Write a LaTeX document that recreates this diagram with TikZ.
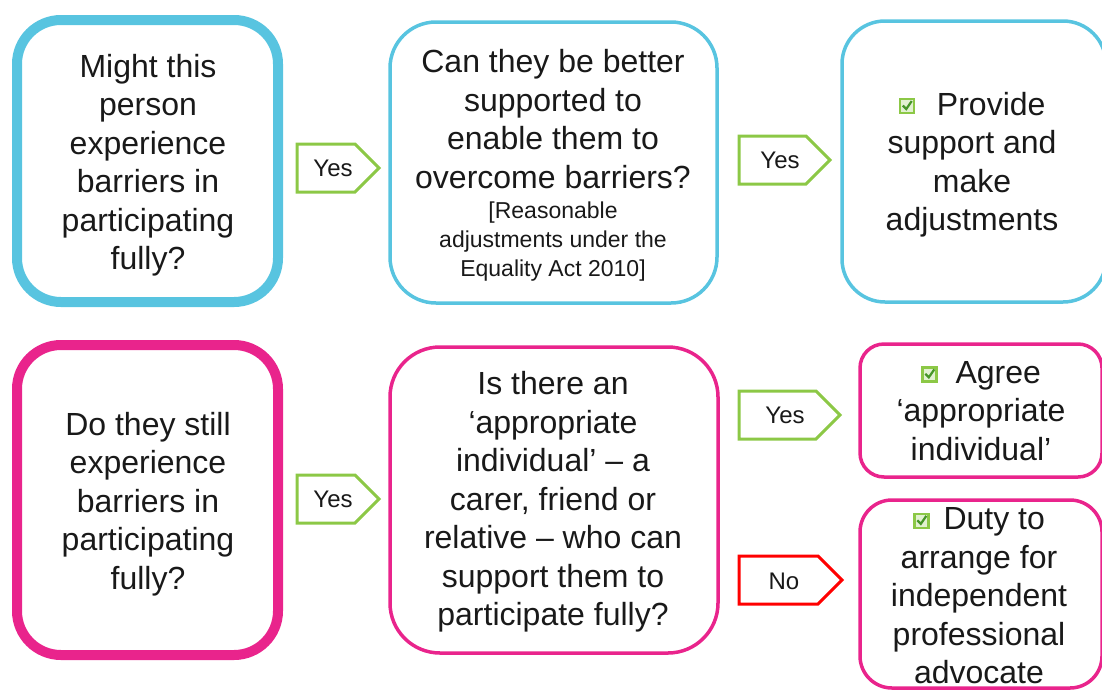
\documentclass[tikz,border=0pt]{standalone}
\usepackage{fontspec}
\setmainfont{Liberation Sans}
\definecolor{cyanline}{RGB}{88,196,224}
\definecolor{pinkline}{RGB}{233,36,140}
\definecolor{limeline}{RGB}{140,200,70}
\definecolor{redline}{RGB}{255,0,0}
\definecolor{checkdark}{RGB}{70,150,40}
\newcommand\chkicon{\tikz[x=1pt,y=1pt,baseline=-2pt]{\draw[limeline,line width=2.4pt,fill=limeline!25] (0,0) rectangle (14,14);\draw[checkdark,line width=2.2pt] (3,7.5) -- (6.5,4) -- (12,12);}}
\begin{document}
\begin{tikzpicture}[x=1pt,y=-1pt,
  big/.style={font=\fontsize{32}{38.5}\selectfont, align=center, inner sep=0pt, text=black!90},
  small/.style={font=\fontsize{23}{29}\selectfont, align=center, inner sep=0pt, text=black!90},
  lbl/.style={font=\fontsize{24}{28}\selectfont, inner sep=0pt, text=black!90},
  thickbox/.style={draw=#1, line width=10pt, rounded corners=44pt, rectangle, inner sep=0pt},
  thinbox/.style={draw=#1, line width=3.5pt, rectangle, inner sep=0pt},
  tag/.style={draw=#1, line width=3pt, fill=white, line join=miter}
]
\useasboundingbox (0,0) rectangle (1102,691);
\clip (0,0) rectangle (1102,691);
% top row
\node[thickbox=cyanline, minimum width=261pt, minimum height=282pt] (a) at (147.5,161) {};
\node[big] (at) at (148,165) {Might this\\person\\experience\\barriers in\\participating\\fully?};
\node[thinbox=cyanline, rounded corners=46pt, minimum width=327pt, minimum height=281pt] (b) at (553.5,162.5) {};
\node[big] (bt) at (553,119) {Can they be better\\supported to\\enable them to\\overcome barriers?};
\node[small] (bs) at (553,242) {[Reasonable\\adjustments under the\\Equality Act 2010]};
\node[thinbox=cyanline, rounded corners=43pt, minimum width=264pt, minimum height=281pt] (c) at (974,161.5) {};
\node[big] (ct) at (972,164.5) {\chkicon\hspace{22pt}Provide\\support and\\make\\adjustments};
% bottom row
\node[thickbox=pinkline, minimum width=261pt, minimum height=310pt] (d) at (147.5,500) {};
\node[big] (dt) at (148,504) {Do they still\\experience\\barriers in\\participating\\fully?};
\node[thinbox=pinkline, rounded corners=50pt, minimum width=328pt, minimum height=306pt] (e) at (554,500) {};
\node[big] (et) at (553,502) {Is there an\\‘appropriate\\individual’ – a\\carer, friend or\\relative – who can\\support them to\\participate fully?};
\node[thinbox=pinkline, rounded corners=24pt, minimum width=242pt, minimum height=133pt] (f) at (981,410.5) {};
\node[big] (ft) at (981,411) {\chkicon\hspace{18pt}Agree\\‘appropriate\\individual’};
\node[thinbox=pinkline, rounded corners=32pt, minimum width=242pt, minimum height=188pt] (g) at (981,594) {};
\node[big] (gt) at (979,596) {\chkicon\hspace{14pt}Duty to\\arrange for\\independent\\professional\\advocate};
% tags
\draw[tag=limeline] (297,144) -- (355,144) -- (379,168) -- (355,192) -- (297,192) -- cycle;
\node[lbl] (y1) at (333,168) {Yes};
\draw[tag=limeline] (739,136) -- (806,136) -- (830,160) -- (806,184) -- (739,184) -- cycle;
\node[lbl] (y2) at (780,160) {Yes};
\draw[tag=limeline] (297,475) -- (355,475) -- (379,499) -- (355,523) -- (297,523) -- cycle;
\node[lbl] (y3) at (333,499) {Yes};
\draw[tag=limeline] (739,391) -- (816,391) -- (840,415) -- (816,439) -- (739,439) -- cycle;
\node[lbl] (y4) at (785,415) {Yes};
\draw[tag=redline] (739,556) -- (818,556) -- (842,580) -- (818,604) -- (739,604) -- cycle;
\node[lbl] (n1) at (784,581) {No};
\end{tikzpicture}
\end{document}
